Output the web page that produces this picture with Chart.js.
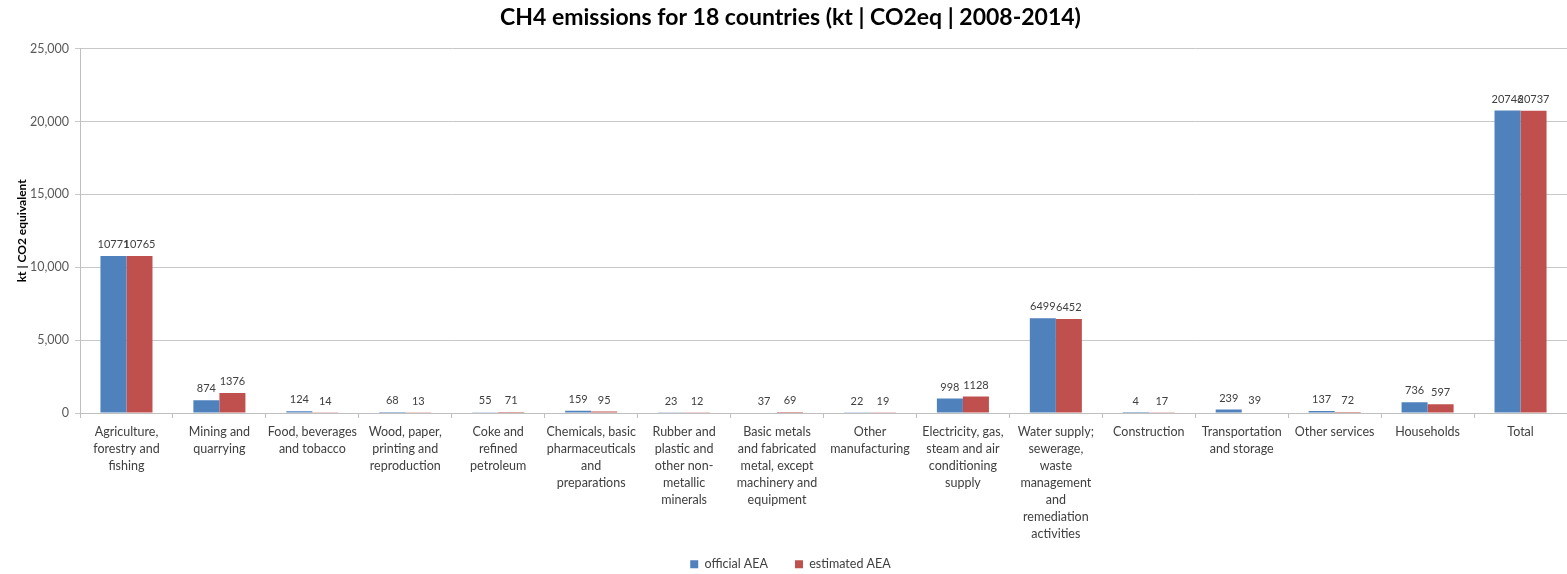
<!DOCTYPE html>
<html>
<head>
<meta charset="utf-8">
<script src="https://cdn.jsdelivr.net/npm/chart.js@4"></script>
<style>
  html, body { margin: 0; padding: 0; background: #fff; }
  #wrap { width: 1567px; height: 574px; }
</style>
</head>
<body>
<div id="wrap"><canvas id="c" width="1567" height="574"></canvas></div>
<script>
// Economic activities (each entry is a list of wrapped label lines)
const categories = [
  ["Agriculture,", "forestry and", "fishing"],
  ["Mining and", "quarrying"],
  ["Food, beverages", "and tobacco"],
  ["Wood, paper,", "printing and", "reproduction"],
  ["Coke and", "refined", "petroleum"],
  ["Chemicals, basic", "pharmaceuticals", "and", "preparations"],
  ["Rubber and", "plastic and", "other non-", "metallic", "minerals"],
  ["Basic metals", "and fabricated", "metal, except", "machinery and", "equipment"],
  ["Other", "manufacturing"],
  ["Electricity, gas,", "steam and air", "conditioning", "supply"],
  ["Water supply;", "sewerage,", "waste", "management", "and", "remediation", "activities"],
  ["Construction"],
  ["Transportation", "and storage"],
  ["Other services"],
  ["Households"],
  ["Total"]
];

// CH4 emissions, kt CO2 equivalent
const officialAEA  = [10771, 874, 124, 68, 55, 159, 23, 37, 22, 998, 6499, 4, 239, 137, 736, 20746];
const estimatedAEA = [10765, 1376, 14, 13, 71, 95, 12, 69, 19, 1128, 6452, 17, 39, 72, 597, 20737];

// Value axis ticks
const yTicks = [0, 5000, 10000, 15000, 20000, 25000];

const FONT = "Lato, 'Open Sans', 'DejaVu Sans', sans-serif";
const PAD_BOTTOM = -40;    // extra room so the wrapped category labels are never clipped
const PLOT_BOTTOM = 413;   // y of the category axis line
const LEGEND_MID = 565;    // y of the legend row

// Writes each bar's value just above it
const valueLabels = {
  id: 'valueLabels',
  afterDatasetsDraw(chart) {
    const ctx = chart.ctx;
    ctx.save();
    ctx.font = "11px " + FONT;
    ctx.fillStyle = "#404040";
    ctx.textAlign = "center";
    ctx.textBaseline = "bottom";
    chart.data.datasets.forEach((ds, i) => {
      const meta = chart.getDatasetMeta(i);
      meta.data.forEach((bar, j) => {
        ctx.fillText(String(ds.data[j]), bar.x, bar.y - 6);
      });
    });
    ctx.restore();
  }
};

// Moves the legend row up into view, just under the category labels
const legendPlace = {
  id: 'legendPlace',
  afterLayout(chart) {
    const lg = chart.legend;
    if (!lg) return;
    const p = lg.options.labels.padding;
    const h = lg.height;
    lg.top = LEGEND_MID - p - 7;
    lg.bottom = lg.top + h;
  }
};

new Chart(document.getElementById('c'), {
  type: 'bar',
  data: {
    labels: categories,
    datasets: [
      { label: 'official AEA', data: officialAEA, backgroundColor: '#4F81BD', borderWidth: 0 },
      { label: 'estimated AEA', data: estimatedAEA, backgroundColor: '#C0504D', borderWidth: 0 }
    ]
  },
  options: {
    responsive: false,
    animation: false,
    layout: { padding: { left: 14, right: 0, top: 0, bottom: PAD_BOTTOM } },
    datasets: { bar: { categoryPercentage: 0.56, barPercentage: 1.0 } },
    plugins: {
      title: {
        display: true,
        text: 'CH4 emissions for 18 countries (kt | CO2eq | 2008-2014)',
        color: '#000',
        font: { family: FONT, size: 23, weight: 'bold' },
        padding: { top: 4, bottom: 17 }
      },
      legend: {
        display: true,
        position: 'bottom',
        labels: {
          color: '#404040',
          font: { family: FONT, size: 12.5 },
          boxWidth: 8,
          boxHeight: 8,
          padding: 27
        }
      },
      tooltip: { enabled: false }
    },
    scales: {
      x: {
        offset: true,
        grid: { display: true, drawOnChartArea: false, drawTicks: true, tickLength: 5, color: '#bfbfbf', offset: true },
        border: { display: true, color: '#bfbfbf' },
        ticks: {
          color: '#404040',
          font: { family: FONT, size: 12.5, lineHeight: 1.36 },
          padding: 5,
          maxRotation: 0,
          minRotation: 0,
          autoSkip: false
        },
        afterFit(scale) {
          const lg = scale.chart.legend;
          const lh = lg ? lg.height : 52;
          scale.height = (574 - PAD_BOTTOM) - PLOT_BOTTOM - lh;
        }
      },
      y: {
        min: 0,
        max: 25000,
        afterBuildTicks(scale) { scale.ticks = yTicks.map(v => ({ value: v })); },
        grid: { color: '#c8c8c8', tickLength: 5, drawTicks: true },
        border: { display: true, color: '#bfbfbf' },
        ticks: {
          color: '#595959',
          font: { family: FONT, size: 12.5 },
          padding: 6,
          callback: v => v.toLocaleString('en-US')
        },
        title: {
          display: true,
          text: 'kt | CO2 equivalent',
          color: '#000',
          font: { family: FONT, size: 12, weight: 'bold' },
          padding: { top: 1, bottom: 0 }
        },
        afterFit(scale) { scale.width = 66; }
      }
    }
  },
  plugins: [valueLabels, legendPlace]
});
</script>
</body>
</html>
